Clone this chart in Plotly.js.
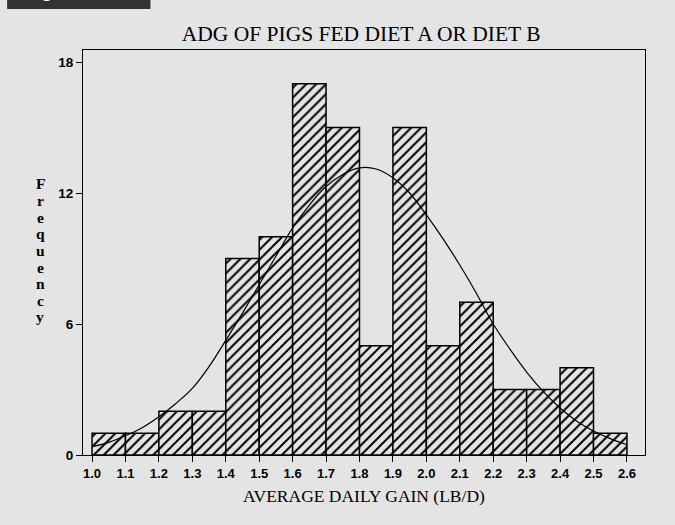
<!DOCTYPE html>
<html>
<head>
<meta charset="utf-8">
<script src="https://cdn.plot.ly/plotly-3.0.1.min.js"></script>
<style>html,body{margin:0;padding:0;background:#e4e4e4;}#chart{width:675px;height:525px;}</style>
</head>
<body>
<div id="chart"></div>
<script>
// Histogram bins (left edges, width 0.1) and counts
const binLeft = [1.0,1.1,1.2,1.3,1.4,1.5,1.6,1.7,1.8,1.9,2.0,2.1,2.2,2.3,2.4,2.5];
const counts  = [1,1,2,2,9,10,17,15,5,15,5,7,3,3,4,1];

// Fitted curve
const curveX = [1.00,1.05,1.10,1.15,1.20,1.25,1.30,1.35,1.40,1.45,1.50,1.55,1.60,1.65,1.70,1.75,1.80,1.85,1.90,1.95,2.00,2.05,2.10,2.15,2.20,2.25,2.30,2.35,2.40,2.45,2.50,2.55,2.60];
const curveY = [0.38,0.58,0.88,1.25,1.75,2.35,3.05,4.05,5.25,6.5,7.8,9.1,10.4,11.45,12.3,12.85,13.15,13.1,12.7,12.0,11.0,9.9,8.7,7.4,6.0,4.85,3.8,2.9,2.15,1.55,1.1,0.75,0.47];

const xTickVals = [1.0,1.1,1.2,1.3,1.4,1.5,1.6,1.7,1.8,1.9,2.0,2.1,2.2,2.3,2.4,2.5,2.6];
const xTickText = ["1.0","1.1","1.2","1.3","1.4","1.5","1.6","1.7","1.8","1.9","2.0","2.1","2.2","2.3","2.4","2.5","2.6"];
const yTickVals = [0,6,12,18];
const yTickText = ["0","6","12","18"];

const titleText = "ADG OF PIGS FED DIET A OR DIET B";
const xTitle = "AVERAGE DAILY GAIN (LB/D)";
const yTitle = "Frequency";
const bannerText = "Figure";

const bg = "#e4e4e4";

const bars = {
  type: "bar",
  x: binLeft,
  y: counts,
  width: binLeft.map(() => 0.1),
  offset: 0,
  marker: {
    color: "#000",
    line: {color: "#000", width: 1.5},
    pattern: {shape: "/", fgcolor: "#000", bgcolor: bg, size: 7, solidity: 0.28}
  },
  hoverinfo: "skip"
};

const curve = {
  type: "scatter",
  mode: "lines",
  x: curveX,
  y: curveY,
  line: {color: "#000", width: 1.2, shape: "spline"},
  hoverinfo: "skip"
};

// vertical stacked y-axis label letters (one annotation per letter)
const plotTop = 50, plotBottom = 455;
const letterAnns = yTitle.split("").map((ch, i) => ({
  text: ch, xref: "paper", yref: "paper",
  x: -0.076, y: (plotBottom - (184 + i * 16.6)) / (plotBottom - plotTop),
  xanchor: "center", yanchor: "middle", showarrow: false,
  font: {family: "Liberation Serif", size: 15.5, color: "#000", weight: "bold"}
}));

const layout = {
  width: 675, height: 525,
  paper_bgcolor: bg, plot_bgcolor: bg,
  margin: {l: 83, r: 30, t: 50, b: 70},
  showlegend: false,
  bargap: 0,
  title: {text: titleText, x: 0.535, xanchor: "center", y: 0.937, yanchor: "middle",
          font: {family: "Liberation Serif", size: 21.5, color: "#000"}},
  xaxis: {
    range: [0.973, 2.654],
    tickvals: xTickVals, ticktext: xTickText,
    ticks: "outside", ticklen: 6, tickwidth: 1, tickcolor: "#000",
    showline: true, linecolor: "#000", linewidth: 1, mirror: true,
    showgrid: false, zeroline: false,
    tickfont: {family: "Liberation Sans", size: 13, color: "#000", weight: "bold"},
    title: {text: xTitle, standoff: 10, font: {family: "Liberation Serif", size: 17.5, color: "#000"}}
  },
  yaxis: {
    range: [0, 18.55],
    tickvals: yTickVals, ticktext: yTickText,
    ticks: "outside", ticklen: 6, tickwidth: 1, tickcolor: "#000",
    showline: true, linecolor: "#000", linewidth: 1, mirror: true,
    showgrid: false, zeroline: false,
    tickfont: {family: "Liberation Sans", size: 13.5, color: "#000", weight: "bold"}
  },
  annotations: letterAnns.concat([
    {text: bannerText, xref: "paper", yref: "paper", x: -0.11, y: 1.117, xanchor: "left", yanchor: "bottom",
     showarrow: false, font: {family: "Liberation Sans", size: 20, color: "#fff", weight: "bold"}}
  ]),
  shapes: [
    {type: "rect", xref: "paper", yref: "paper", x0: -0.135, x1: 0.12, y0: 1.101, y1: 1.2,
     fillcolor: "#333", line: {width: 0}, layer: "below"}
  ]
};

Plotly.newPlot("chart", [bars, curve], layout, {displayModeBar: false, staticPlot: true});
</script>
</body>
</html>
